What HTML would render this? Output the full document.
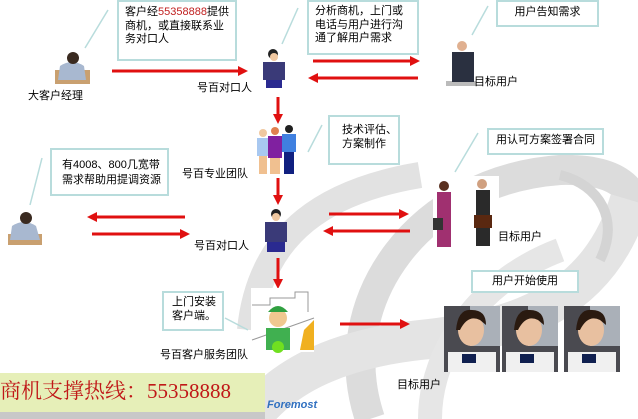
<!DOCTYPE html>
<html><head><meta charset="utf-8"><style>
body{margin:0;width:638px;height:419px;overflow:hidden;background:#fff;position:relative;font-family:"Liberation Sans","Noto Sans CJK SC",sans-serif;}
.a{position:absolute}
.t{position:absolute;font-size:11px;color:#000;white-space:nowrap;line-height:13px}
.box{position:absolute;border:2px solid #b8dcdc;background:#fff;box-sizing:border-box;font-size:11px;line-height:13.5px;padding:3px 6px}
</style></head><body>
<svg class="a" style="left:0;top:0" width="638" height="419">
<g fill="none" stroke-linecap="butt">
<path d="M250,330 C260,230 330,190 420,175" stroke="#e2e2e2" stroke-width="26"/>
<path d="M370,419 C330,300 420,180 560,170 C630,168 638,200 638,220" stroke="#dcdcdc" stroke-width="30"/>
<path d="M630,200 C600,300 520,330 420,340 C330,350 280,380 250,419" stroke="#e4e4e4" stroke-width="40"/>
<path d="M430,419 C430,350 480,280 560,250" stroke="#e6e6e6" stroke-width="24"/>
<path d="M560,175 C600,185 620,220 600,260" stroke="#d4d4d4" stroke-width="10"/>
</g>
<g stroke="#b8dcdc" stroke-width="1.5">
<line x1="85" y1="48" x2="108" y2="10"/>
<line x1="282" y1="44" x2="298" y2="8"/>
<line x1="472" y1="35" x2="488" y2="6"/>
<line x1="308" y1="152" x2="322" y2="125"/>
<line x1="30" y1="205" x2="42" y2="158"/>
<line x1="455" y1="172" x2="478" y2="133"/>
<line x1="225" y1="318" x2="248" y2="330"/>
<line x1="580" y1="315" x2="595" y2="340"/>
</g>
<g stroke="#e01010" stroke-width="3" fill="#e01010">
<line x1="112" y1="71" x2="240" y2="71"/><polygon points="248,71 238,66 238,76" stroke="none"/>
<line x1="313" y1="61" x2="412" y2="61"/><polygon points="420,61 410,56 410,66" stroke="none"/>
<line x1="316" y1="78" x2="418" y2="78"/><polygon points="308,78 318,73 318,83" stroke="none"/>
<line x1="278" y1="97" x2="278" y2="116"/><polygon points="278,124 273,114 283,114" stroke="none"/>
<line x1="278" y1="178" x2="278" y2="197"/><polygon points="278,205 273,195 283,195" stroke="none"/>
<line x1="95" y1="217" x2="185" y2="217"/><polygon points="87,217 97,212 97,222" stroke="none"/>
<line x1="92" y1="234" x2="182" y2="234"/><polygon points="190,234 180,229 180,239" stroke="none"/>
<line x1="329" y1="214" x2="401" y2="214"/><polygon points="409,214 399,209 399,219" stroke="none"/>
<line x1="331" y1="231" x2="410" y2="231"/><polygon points="323,231 333,226 333,236" stroke="none"/>
<line x1="278" y1="258" x2="278" y2="281"/><polygon points="278,289 273,279 283,279" stroke="none"/>
<line x1="340" y1="324" x2="402" y2="324"/><polygon points="410,324 400,319 400,329" stroke="none"/>
</g>
<!-- manager 1 -->
<rect x="55" y="70" width="35" height="14" fill="#c9a070"/>
<path d="M58,80 L60,66 Q72,58 84,66 L86,80Z" fill="#a8b8d0"/>
<circle cx="73" cy="58" r="6" fill="#3a2a20"/>
<!-- manager 2 -->
<rect x="8" y="234" width="34" height="11" fill="#c9a070"/>
<path d="M10,240 L12,226 Q24,218 36,226 L40,240Z" fill="#a8b8d0"/>
<circle cx="26" cy="218" r="6" fill="#3a2a20"/>
<!-- persons center -->
<g>
<circle cx="273" cy="54" r="5" fill="#222"/><circle cx="274" cy="57" r="4" fill="#f0c8a0"/>
<rect x="263" y="62" width="22" height="18" fill="#3a3a78"/><rect x="266" y="80" width="16" height="8" fill="#2a2a90"/>
</g>
<g>
<circle cx="276" cy="214" r="5" fill="#222"/><circle cx="276" cy="217" r="4" fill="#f0c8a0"/>
<rect x="265" y="222" width="22" height="20" fill="#3a3a78"/><rect x="267" y="242" width="18" height="10" fill="#2a2a90"/>
</g>
<!-- team -->
<g>
<rect x="257" y="138" width="12" height="18" fill="#a8c8f0"/><rect x="259" y="156" width="8" height="18" fill="#f0c090"/><circle cx="263" cy="133" r="4" fill="#f0c8a0"/>
<rect x="268" y="136" width="14" height="22" fill="#8020a0"/><rect x="270" y="158" width="10" height="16" fill="#f0c090"/><circle cx="275" cy="131" r="4" fill="#e08050"/>
<rect x="282" y="134" width="14" height="18" fill="#4080e0"/><rect x="284" y="152" width="10" height="22" fill="#102080"/><circle cx="289" cy="129" r="4" fill="#202020"/>
</g>
<!-- target user -->
<rect x="446" y="81" width="30" height="5" fill="#bbb"/>
<rect x="452" y="52" width="22" height="30" fill="#2a3040"/><circle cx="462" cy="46" r="5" fill="#e0b090"/>
<!-- handshake -->
<rect x="433" y="176" width="66" height="72" fill="#fff"/>
<rect x="437" y="192" width="14" height="55" fill="#a03070"/><circle cx="444" cy="186" r="5" fill="#5a3020"/>
<rect x="476" y="190" width="14" height="56" fill="#2a2a2a"/><circle cx="482" cy="184" r="5" fill="#d0a080"/>
<rect x="474" y="215" width="18" height="13" fill="#5a2810"/><rect x="433" y="218" width="10" height="12" fill="#333"/>
<!-- service -->
<rect x="251" y="288" width="63" height="64" fill="#fff"/>
<polyline points="252,305 270,305 270,298 295,298 295,292 308,292 308,312" fill="none" stroke="#999"/>
<line x1="252" y1="340" x2="314" y2="318" stroke="#999"/>
<polygon points="304,330 314,320 314,350 300,350" fill="#f0b020"/>
<circle cx="278" cy="318" r="9" fill="#f0c890"/><path d="M268,312 Q278,300 288,312Z" fill="#30a040"/>
<rect x="266" y="328" width="24" height="22" fill="#40b050"/><circle cx="278" cy="347" r="6" fill="#70e020"/>
<!-- faces -->
<g>
<rect x="444" y="306" width="56" height="66" fill="#4a4a50"/><rect x="470" y="306" width="30" height="40" fill="#aab0b8"/>
<ellipse cx="471" cy="330" rx="13" ry="16" fill="#e8c0a0"/><path d="M456,330 Q458,308 472,310 Q486,310 486,325 L480,320 Q468,314 460,330Z" fill="#2a1a10"/>
<rect x="448" y="352" width="48" height="20" fill="#f0f0f0"/><rect x="462" y="354" width="14" height="9" fill="#102050"/>
</g>
<g>
<rect x="502" y="306" width="56" height="66" fill="#4a4a50"/><rect x="528" y="306" width="30" height="40" fill="#aab0b8"/>
<ellipse cx="529" cy="330" rx="13" ry="16" fill="#e8c0a0"/><path d="M514,330 Q516,308 530,310 Q544,310 544,325 L538,320 Q526,314 518,330Z" fill="#2a1a10"/>
<rect x="506" y="352" width="48" height="20" fill="#f0f0f0"/><rect x="520" y="354" width="14" height="9" fill="#102050"/>
</g>
<g>
<rect x="564" y="306" width="56" height="66" fill="#4a4a50"/><rect x="590" y="306" width="30" height="40" fill="#aab0b8"/>
<ellipse cx="591" cy="330" rx="13" ry="16" fill="#e8c0a0"/><path d="M576,330 Q578,308 592,310 Q606,310 606,325 L600,320 Q588,314 580,330Z" fill="#2a1a10"/>
<rect x="568" y="352" width="48" height="20" fill="#f0f0f0"/><rect x="582" y="354" width="14" height="9" fill="#102050"/>
</g>
<rect x="0" y="412" width="265" height="7" fill="#c8c8c8"/>
</svg>

<div class="box" style="left:117px;top:0;width:120px;height:61px;padding-top:4px">客户经<span style="color:#c02020">55358888</span>提供<br>商机，或直接联系业<br>务对口人</div>
<div class="box" style="left:307px;top:0;width:112px;height:55px;padding-top:3px">分析商机，上门或<br>电话与用户进行沟<br>通了解用户需求</div>
<div class="box" style="left:496px;top:0;width:103px;height:27px;padding-top:4px;text-align:center">用户告知需求</div>
<div class="box" style="left:328px;top:115px;width:72px;height:50px;padding:7px 0 0 12px">技术评估、<br>方案制作</div>
<div class="box" style="left:50px;top:148px;width:119px;height:48px;padding:8px 0 0 10px;line-height:15px">有4008、800几宽带<br>需求帮助用提调资源</div>
<div class="box" style="left:487px;top:128px;width:117px;height:27px;padding-top:4px;text-align:center">用认可方案签署合同</div>
<div class="box" style="left:162px;top:291px;width:62px;height:40px;padding:3px 0 0 8px">上门安装<br>客户端。</div>
<div class="box" style="left:471px;top:270px;width:108px;height:23px;padding-top:3px;text-align:center">用户开始使用</div>

<div class="t" style="left:28px;top:90px">大客户经理</div>
<div class="t" style="left:197px;top:82px">号百对口人</div>
<div class="t" style="left:474px;top:76px">目标用户</div>
<div class="t" style="left:182px;top:168px">号百专业团队</div>
<div class="t" style="left:194px;top:240px">号百对口人</div>
<div class="t" style="left:498px;top:231px">目标用户</div>
<div class="t" style="left:160px;top:349px">号百客户服务团队</div>
<div class="t" style="left:397px;top:379px">目标用户</div>

<div class="a" style="left:0;top:373px;width:265px;height:39px;background:#e6efb8"></div>
<div class="a" style="left:0;top:378px;font-family:'Liberation Serif','Noto Serif CJK SC',serif;font-size:21px;color:#c01818;white-space:nowrap;line-height:26px">商机支撑热线：55358888</div>
<div class="a" style="left:267px;top:399px;font-size:11px;font-weight:bold;font-style:italic;color:#3070c0">Foremost</div>
</body></html>
